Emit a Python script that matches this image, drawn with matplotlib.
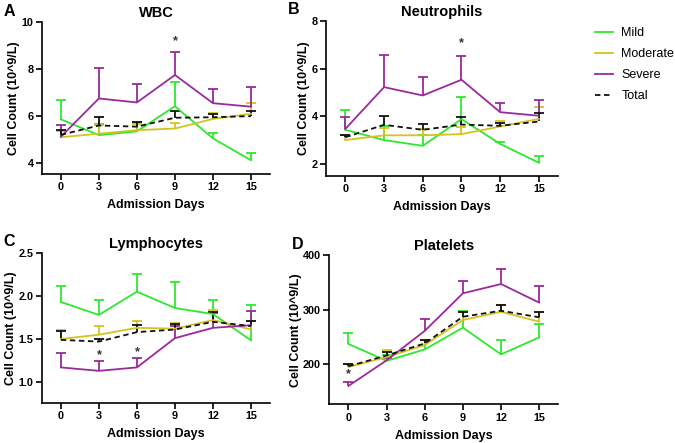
import numpy as np
import matplotlib.pyplot as plt

plt.rcParams['font.family'] = ['Liberation Sans', 'DejaVu Sans']
plt.rcParams['font.weight'] = 'bold'

days = [0, 3, 6, 9, 12, 15]
groups = ['Mild', 'Moderate', 'Severe', 'Total']
colors = {'Mild': '#2ee82e', 'Moderate': '#d2c41e', 'Severe': '#9a2a9c', 'Total': '#111111'}

# mean values and top of the error bar
wbc_mean = {'Mild': [5.86, 5.19, 5.35, 6.42, 5.05, 4.12],
            'Moderate': [5.10, 5.25, 5.40, 5.47, 5.88, 6.10],
            'Severe': [5.12, 6.75, 6.58, 7.75, 6.55, 6.40],
            'Total': [5.20, 5.60, 5.55, 5.93, 5.95, 6.00]}
wbc_top = {'Mild': [6.68, 5.65, 5.75, 7.45, 5.30, 4.44],
           'Moderate': [5.35, 5.60, 5.65, 5.72, 6.15, 6.55],
           'Severe': [5.62, 8.05, 7.35, 8.75, 7.15, 7.22],
           'Total': [5.40, 5.95, 5.75, 6.20, 6.10, 6.20]}

neu_mean = {'Mild': [3.43, 3.00, 2.76, 3.88, 2.84, 2.05],
            'Moderate': [3.00, 3.20, 3.20, 3.25, 3.57, 3.89],
            'Severe': [3.47, 5.22, 4.87, 5.53, 4.17, 4.02],
            'Total': [3.12, 3.64, 3.43, 3.65, 3.60, 3.78]}
neu_top = {'Mild': [4.27, 3.57, 3.20, 4.79, 2.90, 2.34],
           'Moderate': [3.20, 3.50, 3.45, 3.53, 3.82, 4.37],
           'Severe': [3.96, 6.56, 5.66, 6.54, 4.55, 4.69],
           'Total': [3.22, 3.99, 3.68, 3.96, 3.70, 4.13]}

lym_mean = {'Mild': [1.93, 1.78, 2.05, 1.86, 1.79, 1.485],
            'Moderate': [1.50, 1.55, 1.63, 1.62, 1.72, 1.61],
            'Severe': [1.17, 1.13, 1.17, 1.51, 1.63, 1.66],
            'Total': [1.49, 1.47, 1.58, 1.61, 1.70, 1.65]}
lym_top = {'Mild': [2.12, 1.95, 2.26, 2.16, 1.95, 1.90],
           'Moderate': [1.60, 1.65, 1.71, 1.69, 1.84, 1.71],
           'Severe': [1.34, 1.24, 1.28, 1.65, 1.80, 1.83],
           'Total': [1.59, 1.50, 1.66, 1.68, 1.81, 1.71]}

plt_mean = {'Mild': [237, 206, 227, 267, 218, 249],
            'Moderate': [195, 213, 235, 281, 296, 278],
            'Severe': [160, 207, 261, 330, 347, 313],
            'Total': [196, 216, 238, 287, 298, 286]}
plt_top = {'Mild': [257, 216, 244, 297, 244, 273],
           'Moderate': [201, 226, 244, 296, 308, 296],
           'Severe': [168, 212, 283, 353, 375, 344],
           'Total': [200, 223, 245, 296, 308, 296]}

panels = [
    ('A', 'WBC', wbc_mean, wbc_top, (3.53, 10), [4, 6, 8, 10], ['4', '6', '8', '10'],
     [(9, 9.2)], [0.062, 0.607, 0.338, 0.343]),
    ('B', 'Neutrophils', neu_mean, neu_top, (1.5, 8), [2, 4, 6, 8], ['2', '4', '6', '8'],
     [(9, 7.05)], [0.483, 0.603, 0.344, 0.350]),
    ('C', 'Lymphocytes', lym_mean, lym_top, (0.76, 2.5), [1.0, 1.5, 2.0, 2.5],
     ['1.0', '1.5', '2.0', '2.5'], [(3, 1.31), (6, 1.35)], [0.062, 0.091, 0.338, 0.338]),
    ('D', 'Platelets', plt_mean, plt_top, (126, 400), [200, 300, 400], ['200', '300', '400'],
     [(0, 181)], [0.488, 0.087, 0.339, 0.337]),
]

fig = plt.figure(figsize=(6.75, 4.43), dpi=100)

for letter, title, means, tops, ylim, yt, ytl, stars, rect in panels:
    ax = fig.add_axes(rect)
    for g in groups:
        m = np.array(means[g])
        up = np.array(tops[g]) - m
        ls = (0, (3, 2)) if g == 'Total' else '-'
        ax.plot(days, m, color=colors[g], lw=1.3, ls=ls, label=g, zorder=3)
        line, caps, bars = ax.errorbar(days, m, yerr=[np.zeros_like(m), up], fmt='none',
                                       ecolor=colors[g], elinewidth=1.3, capsize=3.5,
                                       capthick=1.3, zorder=2)
        caps[0].set_visible(False)
    for sx, sy in stars:
        ax.text(sx, sy, '*', ha='center', va='center', fontsize=9, color='#333333')
    ax.set_xlim(-1.5, 16.5)
    ax.set_ylim(*ylim)
    ax.set_xticks(days)
    ax.set_xticklabels([str(d) for d in days], fontsize=7.8, fontweight='bold')
    ax.set_yticks(yt)
    ax.set_yticklabels(ytl, fontsize=7.8, fontweight='bold')
    ax.spines['top'].set_visible(False)
    ax.spines['right'].set_visible(False)
    ax.spines['left'].set_linewidth(1.2)
    ax.spines['bottom'].set_linewidth(1.2)
    ax.spines['left'].set_bounds(ylim[0], yt[-1])
    ax.tick_params(width=1.2, length=4, pad=2)
    ax.set_xlabel('Admission Days', fontsize=9, fontweight='bold', labelpad=5)
    ax.set_ylabel('Cell Count (10^9/L)', fontsize=9, fontweight='bold', labelpad=1)
    ax.set_title(title, fontsize=10.5, fontweight='bold', pad=3.5)
    x0 = rect[0] * 675 - 38
    y_top = (rect[1] + rect[3]) * 443 + 18.5
    fig.text(x0 / 675, y_top / 443, letter, fontsize=11.5, fontweight='bold', va='top', ha='left')
    if letter == 'A':
        handles, labels = ax.get_legend_handles_labels()

fig.legend(handles, labels, loc='upper left', bbox_to_anchor=(0.8815, 0.939), frameon=False,
           borderaxespad=0, borderpad=0, handlelength=1.4, handletextpad=0.7,
           labelspacing=0.72, prop={'weight': 'normal', 'size': 9})

fig.savefig('out.png', dpi=100)
